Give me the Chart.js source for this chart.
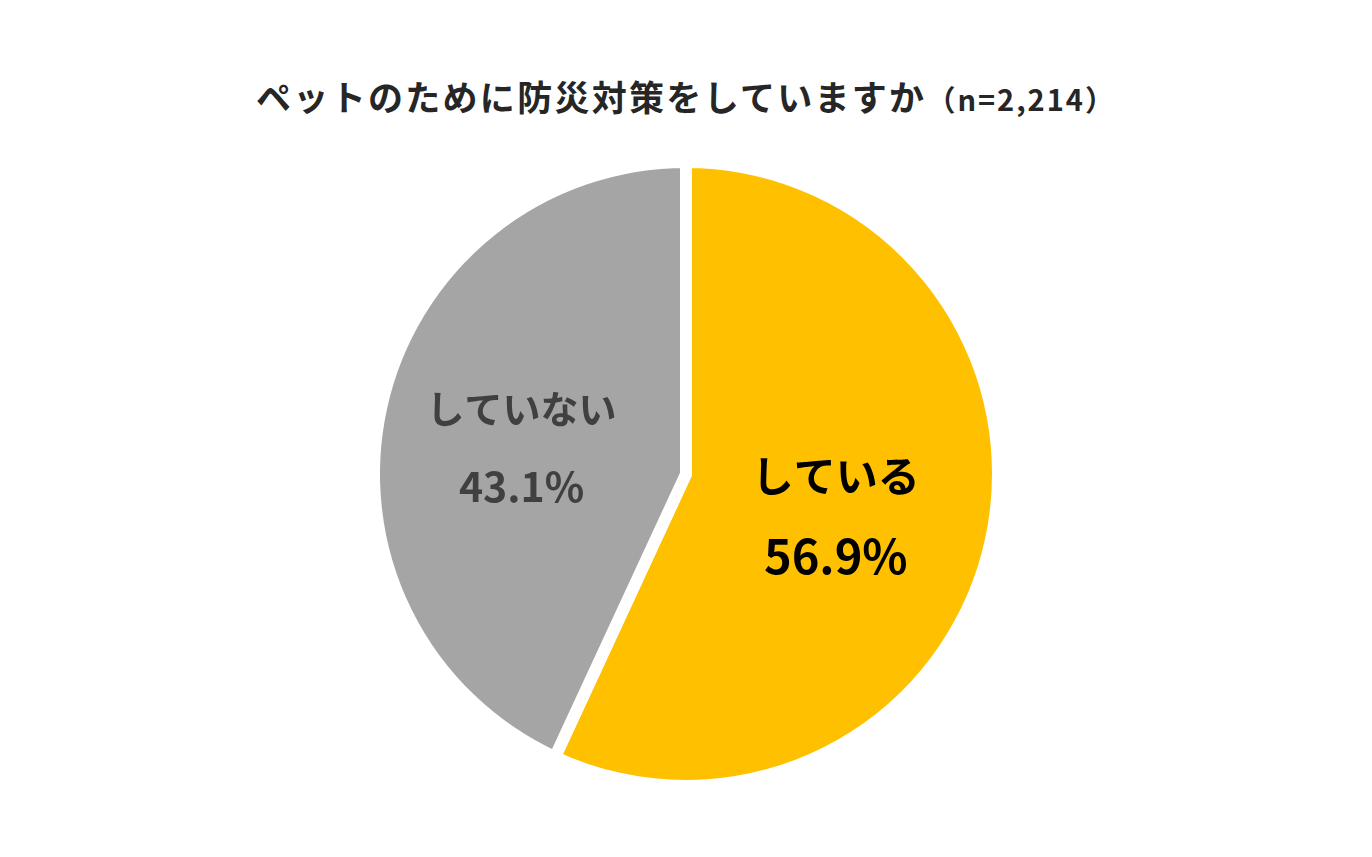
<!DOCTYPE html>
<html lang="ja">
<head>
<meta charset="utf-8">
<title>ペットのために防災対策をしていますか</title>
<script src="https://cdn.jsdelivr.net/npm/chart.js@4"></script>
<style>
  html, body { margin: 0; padding: 0; background: #fff; }
  body { width: 1372px; height: 857px; position: relative; overflow: hidden; }
  #title {
    position: absolute; left: 0; width: 1372px; top: 70px;
    text-align: center; font-family: "Noto Sans CJK JP", sans-serif;
    font-weight: 700; color: #262626; font-size: 35px; letter-spacing: 2.3px;
    white-space: nowrap;
  }
  #title small { font-size: 29px; letter-spacing: 2px; }
  #wrap { position: absolute; left: 0; top: 0; width: 1372px; height: 857px; }
</style>
</head>
<body>
<div id="title">ペットのために防災対策をしていますか<small>（n=2,214）</small></div>
<div id="wrap"><canvas id="petChart" width="1372" height="857"></canvas></div>
<script>
// data
const answers = ["している", "していない"];
const shares = [56.9, 43.1];
const sliceColors = ['#FFC000', '#A5A5A5'];
const textColors = ['#000000', '#404040'];

// labels inside each slice: name on top, percentage below
const sliceLabels = {
    id: 'sliceLabels',
    afterDatasetsDraw(chart) {
        let ctx = chart.ctx;
        let meta = chart.getDatasetMeta(0);
        // offsets (as a share of the radius) for each label block
        let spots = [
            { dx: 0.48, dy: 0.135, size: 42, pctSize: 47, gap: 80 },
            { dx: -0.527, dy: -0.085, size: 38, pctSize: 41, gap: 77 }
        ];
        meta.data.forEach(function(arc, i) {
            let r = arc.outerRadius;
            let cx = arc.x + spots[i].dx * r;
            let cy = arc.y + spots[i].dy * r;
            ctx.save();
            ctx.fillStyle = textColors[i];
            ctx.textAlign = 'center';
            ctx.textBaseline = 'middle';
            ctx.font = `bold ${spots[i].size}px "Noto Sans CJK JP", sans-serif`;
            ctx.fillText(answers[i], cx, cy - spots[i].gap / 2);
            ctx.font = `bold ${spots[i].pctSize}px "Noto Sans CJK JP", sans-serif`;
            ctx.fillText(shares[i].toFixed(1) + '%', cx, cy + spots[i].gap / 2);
            ctx.restore();
        });
    }
};

let ctx = document.getElementById('petChart').getContext('2d');
let petChart = new Chart(ctx, {
    type: 'pie',
    data: {
        labels: answers,
        datasets: [{
            data: shares,
            backgroundColor: sliceColors,
            borderColor: '#ffffff',
            borderWidth: 12
        }]
    },
    options: {
        responsive: false,
        animation: false,
        layout: { padding: { top: 156, bottom: 65 } },
        plugins: {
            legend: { display: false },
            tooltip: { enabled: false }
        }
    },
    plugins: [sliceLabels]
});
</script>
</body>
</html>
